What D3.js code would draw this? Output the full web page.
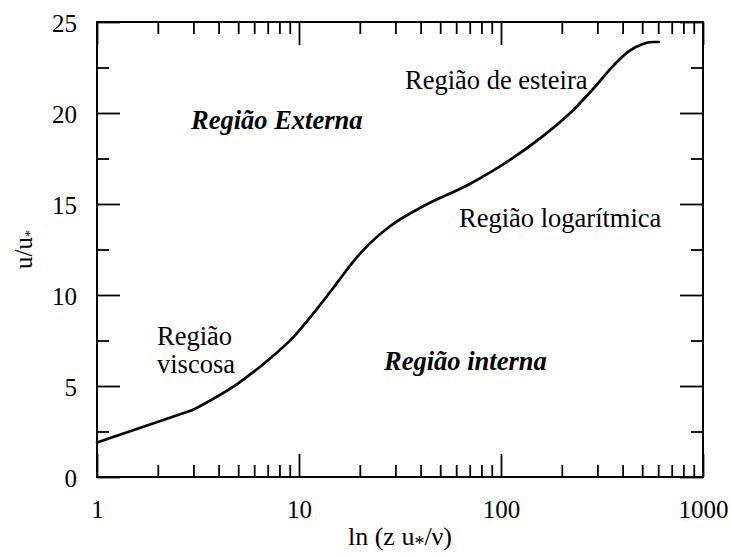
<!DOCTYPE html>
<html>
<head>
<meta charset="utf-8">
<script src="https://cdn.jsdelivr.net/npm/d3@7"></script>
<style>
  html, body { margin: 0; padding: 0; background: #fff; }
  svg { display: block; }
  text { font-family: "Liberation Serif", "Times New Roman", Times, serif; fill: #000; }
</style>
</head>
<body>
<svg id="chart" width="731" height="556"></svg>
<script>
// Mean velocity profile of the turbulent boundary layer (law of the wall)
const zPlus = [1, 3, 5, 7, 9.4, 12.2, 15.4, 18.6, 22.5, 28, 40, 70, 110, 160, 220, 290, 360, 430, 500, 560, 605];
const uPlus = [1.9, 3.7, 5.15, 6.4, 7.7, 9.2, 10.65, 11.85, 12.85, 13.75, 14.8, 16.1, 17.4, 18.7, 20.0, 21.4, 22.6, 23.4, 23.78, 23.9, 23.9];

const xMajor = [1, 10, 100, 1000];
const xMinor = [2, 3, 4, 5, 6, 7, 8, 9, 20, 30, 40, 50, 60, 70, 80, 90, 200, 300, 400, 500, 600, 700, 800, 900];
const yMajor = [0, 5, 10, 15, 20, 25];
const yMinor = [2.5, 7.5, 12.5, 17.5, 22.5];

const margin = { left: 97, top: 22, right: 28, bottom: 79 };
const W = 731, H = 556;
const w = W - margin.left - margin.right;
const h = H - margin.top - margin.bottom;

const svg = d3.select("#chart");
const g = svg.append("g").attr("transform", `translate(${margin.left},${margin.top})`);

const x = d3.scaleLog().domain([1, 1000]).range([0, w]);
const y = d3.scaleLinear().domain([0, 25]).range([h, 0]);

const majorLen = 23, minorLen = 12;
const serif = '"Liberation Serif", "Times New Roman", Times, serif';

function cleanAxis(sel) {
  sel.select(".domain").remove();
  sel.selectAll(".tick line").attr("stroke", "#000").attr("stroke-width", 1.8);
  sel.selectAll(".tick text").remove();
}
function labelAxis(sel) {
  sel.attr("font-family", serif);
  sel.select(".domain").remove();
  sel.selectAll(".tick line").attr("stroke", "#000").attr("stroke-width", 1.8);
  sel.selectAll(".tick text")
    .style("font-family", serif).style("font-size", "25px").attr("fill", "#000");
}

// bottom axis with labels
g.append("g").attr("transform", `translate(0,${h})`)
  .call(d3.axisBottom(x).tickValues(xMajor).tickSize(-majorLen).tickFormat(d3.format("d")))
  .call(labelAxis)
  .call(s => s.selectAll(".tick text").attr("y", 23).attr("dy", "0.71em"));
g.append("g").attr("transform", `translate(0,${h})`)
  .call(d3.axisBottom(x).tickValues(xMinor).tickSize(-minorLen))
  .call(cleanAxis);
// top axis
g.append("g")
  .call(d3.axisTop(x).tickValues(xMajor).tickSize(-majorLen))
  .call(cleanAxis);
g.append("g")
  .call(d3.axisTop(x).tickValues(xMinor).tickSize(-minorLen))
  .call(cleanAxis);
// left axis with labels
g.append("g")
  .call(d3.axisLeft(y).tickValues(yMajor).tickSize(-majorLen).tickFormat(d3.format("d")))
  .call(labelAxis)
  .call(s => s.selectAll(".tick text").attr("x", -20).attr("dy", "0.38em"));
g.append("g")
  .call(d3.axisLeft(y).tickValues(yMinor).tickSize(-minorLen))
  .call(cleanAxis);
// right axis
g.append("g").attr("transform", `translate(${w},0)`)
  .call(d3.axisRight(y).tickValues(yMajor).tickSize(-majorLen))
  .call(cleanAxis);
g.append("g").attr("transform", `translate(${w},0)`)
  .call(d3.axisRight(y).tickValues(yMinor).tickSize(-minorLen))
  .call(cleanAxis);

// frame
g.append("rect").attr("x", 0).attr("y", 0).attr("width", w).attr("height", h)
  .attr("fill", "none").attr("stroke", "#000").attr("stroke-width", 2);

// profile: linear viscous sublayer, then smooth buffer/log/wake regions
const pts = zPlus.map((z, i) => [z, uPlus[i]]);
const lineLin = d3.line().x(d => x(d[0])).y(d => y(d[1])).curve(d3.curveLinear);
const lineSmooth = d3.line().x(d => x(d[0])).y(d => y(d[1])).curve(d3.curveMonotoneX);
g.append("path").attr("d", lineLin(pts.slice(0, 2)))
  .attr("fill", "none").attr("stroke", "#000").attr("stroke-width", 2.7).attr("stroke-linecap", "round");
g.append("path").attr("d", lineSmooth(pts.slice(1)))
  .attr("fill", "none").attr("stroke", "#000").attr("stroke-width", 2.7)
  .attr("stroke-linejoin", "round").attr("stroke-linecap", "round");

// region annotations
const annSize = 26.5;
function note(txt, px, py, bold) {
  svg.append("text").attr("x", px).attr("y", py)
    .style("font-size", annSize + "px")
    .style("font-weight", bold ? "bold" : "normal")
    .style("font-style", bold ? "italic" : "normal")
    .text(txt);
}
note("Região Externa", 191, 129, true);
note("Região de esteira", 405, 89, false);
note("Região logarítmica", 459, 227, false);
note("Região", 157, 345, false);
note("viscosa", 157, 373, false);
note("Região interna", 384, 370, true);

// axis titles
const xt = svg.append("text")
  .attr("x", margin.left + w / 2).attr("y", 545)
  .attr("text-anchor", "middle").style("font-size", "26px");
xt.append("tspan").text("ln (z u");
xt.append("tspan").attr("dy", 5).style("font-size", "20px").text("*");
xt.append("tspan").attr("dy", -5).text("/ν)");

const yt = svg.append("text")
  .attr("transform", `translate(32,${margin.top + h / 2}) rotate(-90)`)
  .attr("text-anchor", "middle").style("font-size", "25px");
yt.append("tspan").text("u/u");
yt.append("tspan").attr("dy", 3).style("font-size", "14px").text("*");
</script>
</body>
</html>
